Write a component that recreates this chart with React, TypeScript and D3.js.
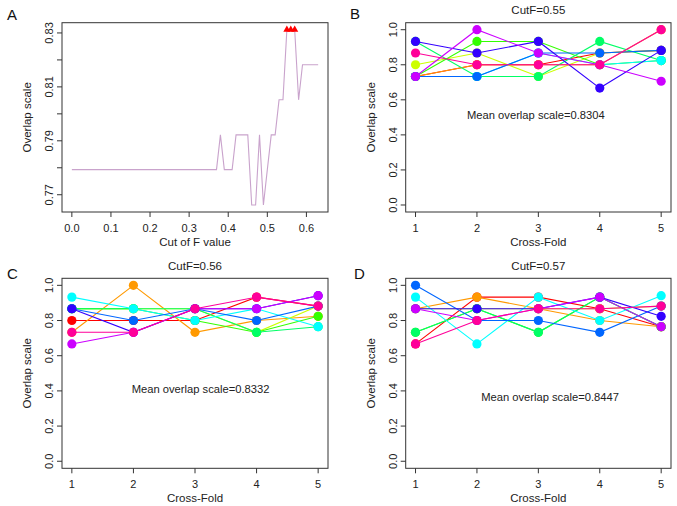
import React from 'react';
import * as d3 from 'd3';

// ---------- Panel A data ----------
const cutValues = [
  0.00, 0.01, 0.02, 0.03, 0.04, 0.05, 0.06, 0.07, 0.08, 0.09,
  0.10, 0.11, 0.12, 0.13, 0.14, 0.15, 0.16, 0.17, 0.18, 0.19,
  0.20, 0.21, 0.22, 0.23, 0.24, 0.25, 0.26, 0.27, 0.28, 0.29,
  0.30, 0.31, 0.32, 0.33, 0.34, 0.35, 0.36, 0.37, 0.38, 0.39,
  0.40, 0.41, 0.42, 0.43, 0.44, 0.45, 0.46, 0.47, 0.48, 0.49,
  0.50, 0.51, 0.52, 0.53, 0.54, 0.55, 0.56, 0.57, 0.58, 0.59,
  0.60, 0.61, 0.62, 0.63,
];
const overlapValues = [
  0.7793, 0.7793, 0.7793, 0.7793, 0.7793, 0.7793, 0.7793, 0.7793, 0.7793, 0.7793,
  0.7793, 0.7793, 0.7793, 0.7793, 0.7793, 0.7793, 0.7793, 0.7793, 0.7793, 0.7793,
  0.7793, 0.7793, 0.7793, 0.7793, 0.7793, 0.7793, 0.7793, 0.7793, 0.7793, 0.7793,
  0.7793, 0.7793, 0.7793, 0.7793, 0.7793, 0.7793, 0.7793, 0.7793, 0.7922, 0.7793,
  0.7793, 0.7793, 0.7922, 0.7922, 0.7922, 0.7922, 0.7662, 0.7662, 0.7922, 0.7662,
  0.7793, 0.7922, 0.7922, 0.8052, 0.8052, 0.8312, 0.8312, 0.8312, 0.8052, 0.8182,
  0.8182, 0.8182, 0.8182, 0.8182,
];
const peakCuts = [0.55, 0.56, 0.57];
const peakValue = 0.8312;
const aXTicks = [0.0, 0.1, 0.2, 0.3, 0.4, 0.5, 0.6];
const aYTicks = [0.77, 0.78, 0.79, 0.80, 0.81, 0.82, 0.83];
const aYLabels = ['0.77', '', '0.79', '', '0.81', '', '0.83'];

// ---------- Cross-fold panels ----------
const folds = [1, 2, 3, 4, 5];
const foldYTicks = [0.0, 0.2, 0.4, 0.6, 0.8, 1.0];
const lineColors = ['#FF0000', '#FF9900', '#CCFF00', '#33FF00', '#00FF66', '#00FFFF', '#0066FF', '#3300FF', '#CC00FF', '#FF0099'];

const seriesB = [
  [0.733, 0.800, 0.800, 0.867, 0.882],
  [0.733, 0.800, 0.800, 0.800, 1.000],
  [0.800, 0.867, 0.733, 0.867, 0.882],
  [0.733, 0.933, 0.933, 0.800, 0.824],
  [0.933, 0.733, 0.733, 0.933, 0.824],
  [0.733, 0.733, 0.867, 0.800, 0.824],
  [0.733, 0.733, 0.867, 0.867, 0.882],
  [0.933, 0.867, 0.933, 0.667, 0.882],
  [0.733, 1.000, 0.867, 0.800, 0.706],
  [0.867, 0.800, 0.800, 0.800, 1.000],
];
const seriesC = [
  [0.800, 0.800, 0.800, 0.933, 0.882],
  [0.733, 1.000, 0.733, 0.800, 0.824],
  [0.867, 0.867, 0.867, 0.733, 0.882],
  [0.867, 0.867, 0.800, 0.733, 0.824],
  [0.867, 0.867, 0.867, 0.733, 0.765],
  [0.933, 0.867, 0.800, 0.867, 0.765],
  [0.867, 0.800, 0.867, 0.800, 0.882],
  [0.867, 0.733, 0.867, 0.867, 0.941],
  [0.667, 0.733, 0.867, 0.867, 0.941],
  [0.733, 0.733, 0.867, 0.933, 0.882],
];
const seriesD = [
  [0.667, 0.933, 0.933, 0.867, 0.765],
  [0.867, 0.933, 0.867, 0.800, 0.765],
  [0.867, 0.867, 0.867, 0.867, 0.882],
  [0.733, 0.867, 0.733, 0.933, 0.765],
  [0.733, 0.867, 0.733, 0.933, 0.765],
  [0.933, 0.667, 0.933, 0.800, 0.941],
  [1.000, 0.800, 0.800, 0.733, 0.882],
  [0.867, 0.867, 0.867, 0.933, 0.824],
  [0.867, 0.800, 0.867, 0.933, 0.765],
  [0.667, 0.800, 0.867, 0.867, 0.882],
];

const FONT = '"Liberation Sans", Arial, Helvetica, sans-serif';
const W = 677;
const H = 506;

type Box = { x0: number; x1: number; y0: number; y1: number };

function Frame({ box, xScale, yScale, xTicks, yTicks, yLabels, xFmt, xTitle, yTitle }: any) {
  return (
    <g>
      <rect x={box.x0} y={box.y0} width={box.x1 - box.x0} height={box.y1 - box.y0} fill="none" stroke="#333" strokeWidth={1} />
      {xTicks.map((t: number, i: number) => (
        <g key={'xt' + i}>
          <line x1={xScale(t)} x2={xScale(t)} y1={box.y1} y2={box.y1 + 5} stroke="#333" />
          <text x={xScale(t)} y={box.y1 + 20} textAnchor="middle" fontSize={11} fontFamily={FONT} fill="#222">{xFmt(t)}</text>
        </g>
      ))}
      {yTicks.map((t: number, i: number) => (
        <g key={'yt' + i}>
          <line x1={box.x0 - 5} x2={box.x0} y1={yScale(t)} y2={yScale(t)} stroke="#333" />
          {yLabels[i] !== '' && (
            <text transform={`translate(${box.x0 - 9},${yScale(t)}) rotate(-90)`} textAnchor="middle" fontSize={11} fontFamily={FONT} fill="#222">{yLabels[i]}</text>
          )}
        </g>
      ))}
      <text x={(box.x0 + box.x1) / 2} y={box.y1 + 34} textAnchor="middle" fontSize={11.5} fontFamily={FONT} fill="#222">{xTitle}</text>
      <text transform={`translate(${box.x0 - 31},${(box.y0 + box.y1) / 2}) rotate(-90)`} textAnchor="middle" fontSize={11.5} fontFamily={FONT} fill="#222">{yTitle}</text>
    </g>
  );
}

function PanelA({ box }: { box: Box }) {
  const xMin = d3.min(cutValues)!, xMax = d3.max(cutValues)!;
  const yMin = d3.min(overlapValues)!, yMax = d3.max(overlapValues)!;
  const px = (xMax - xMin) * 0.04, py = (yMax - yMin) * 0.04;
  const x = d3.scaleLinear().domain([xMin - px, xMax + px]).range([box.x0, box.x1]);
  const y = d3.scaleLinear().domain([yMin - py, yMax + py]).range([box.y1, box.y0]);
  const pts: [number, number][] = cutValues.map((c, i) => [c, overlapValues[i]]);
  const line = d3.line<[number, number]>().x(d => x(d[0])).y(d => y(d[1]));
  const tri = d3.symbol().type(d3.symbolTriangle).size(22);
  return (
    <g>
      <path d={line(pts)!} fill="none" stroke="#c9a3cc" strokeWidth={1.1} />
      {peakCuts.map((c, i) => (
        <path key={i} d={tri()!} transform={`translate(${x(c)},${y(peakValue)})`} fill="#ff0000" />
      ))}
      <Frame box={box} xScale={x} yScale={y} xTicks={aXTicks} yTicks={aYTicks} yLabels={aYLabels}
        xFmt={(t: number) => t.toFixed(1)} xTitle="Cut of F value" yTitle="Overlap scale" />
    </g>
  );
}

function FoldPanel({ box, series, title, mean, meanPos }: { box: Box; series: number[][]; title: string; mean: string; meanPos: [number, number] }) {
  const x = d3.scaleLinear().domain([1 - 0.16, 5 + 0.16]).range([box.x0, box.x1]);
  const y = d3.scaleLinear().domain([-0.04, 1.04]).range([box.y1, box.y0]);
  const line = d3.line<number>().x((_, i) => x(folds[i])).y(d => y(d));
  return (
    <g>
      {series.map((s, k) => (
        <g key={k}>
          <path d={line(s)!} fill="none" stroke={lineColors[k]} strokeWidth={1.1} />
          {s.map((v, i) => (
            <circle key={i} cx={x(folds[i])} cy={y(v)} r={4.6} fill={lineColors[k]} />
          ))}
        </g>
      ))}
      <text x={(box.x0 + box.x1) / 2} y={box.y0 - 8.5} textAnchor="middle" fontSize={11.5} fontFamily={FONT} fill="#222">{title}</text>
      <text x={x(meanPos[0])} y={y(meanPos[1]) + 4} textAnchor="middle" fontSize={11.2} fontFamily={FONT} fill="#222">{mean}</text>
      <Frame box={box} xScale={x} yScale={y} xTicks={folds} yTicks={foldYTicks} yLabels={foldYTicks.map(t => t.toFixed(1))}
        xFmt={(t: number) => String(t)} xTitle="Cross-Fold" yTitle="Overlap scale" />
    </g>
  );
}

export default function App() {
  const boxA: Box = { x0: 62, x1: 328, y0: 22.7, y1: 212 };
  const boxB: Box = { x0: 405.7, x1: 671, y0: 22.7, y1: 212 };
  const boxC: Box = { x0: 62, x1: 328, y0: 278.3, y1: 468.3 };
  const boxD: Box = { x0: 405.7, x1: 671, y0: 278.3, y1: 468.3 };
  return (
    <svg width={W} height={H} style={{ position: 'absolute', left: 0, top: 0, background: '#fff' }}>
      <rect x={0} y={0} width={W} height={H} fill="#fff" />
      <PanelA box={boxA} />
      <FoldPanel box={boxB} series={seriesB} title="CutF=0.55" mean="Mean overlap scale=0.8304" meanPos={[2.96, 0.515]} />
      <FoldPanel box={boxC} series={seriesC} title="CutF=0.56" mean="Mean overlap scale=0.8332" meanPos={[3.09, 0.41]} />
      <FoldPanel box={boxD} series={seriesD} title="CutF=0.57" mean="Mean overlap scale=0.8447" meanPos={[3.19, 0.365]} />
      <text x={7} y={20} fontSize={15} fontFamily={FONT} fill="#111">A</text>
      <text x={350} y={19} fontSize={15} fontFamily={FONT} fill="#111">B</text>
      <text x={7} y={279} fontSize={15} fontFamily={FONT} fill="#111">C</text>
      <text x={354} y={279} fontSize={15} fontFamily={FONT} fill="#111">D</text>
    </svg>
  );
}
